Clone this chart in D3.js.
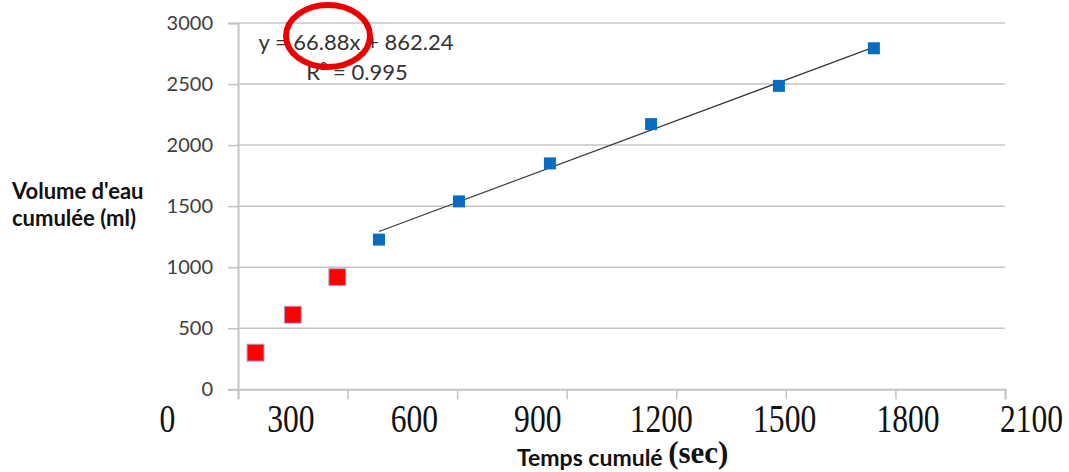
<!DOCTYPE html>
<html>
<head>
<meta charset="utf-8">
<script src="https://cdn.jsdelivr.net/npm/d3@7"></script>
<style>
  body { margin: 0; background: #fff; }
  svg { display: block; }
</style>
</head>
<body>
<svg id="chart" width="1069" height="472"></svg>
<script>
// tick labels
const xTicks = [0, 300, 600, 900, 1200, 1500, 1800, 2100];
const yTicks = [0, 500, 1000, 1500, 2000, 2500, 3000];

// first points (red, left out of the fit)
const redTimes = [48, 150, 272];
const redVolumes = [300, 611, 918];

// fitted points (blue)
const blueTimes = [386, 605, 854, 1131, 1481, 1741];
const blueVolumes = [1226, 1539, 1850, 2172, 2485, 2793];

// Excel trendline, x in minutes
const slope = 66.88;
const intercept = 862.24;
const r2 = 0.995;

const svg = d3.select("#chart");
const plain = d3.format("d");

const xScale = d3.scaleLinear().domain([0, 2100]).range([238, 1005]);
const yScale = d3.scaleLinear().domain([0, 3000]).range([389.3, 23]);
// the pasted-on seconds labels sit on their own, slightly wider, axis
const labelScale = d3.scaleLinear().domain([0, 2100]).range([167, 1031]);

// horizontal gridlines
svg.append("g")
  .selectAll("line")
  .data(yTicks.filter((d) => d > 0))
  .join("line")
  .attr("x1", xScale(0))
  .attr("x2", xScale(2100))
  .attr("y1", (d) => yScale(d))
  .attr("y2", (d) => yScale(d))
  .attr("stroke", "#c4c4c4")
  .attr("stroke-width", 1.5);

// y axis
const yAxis = d3.axisLeft(yScale).tickValues(yTicks).tickFormat(plain).tickSize(10).tickPadding(15);
const gy = svg.append("g")
  .attr("transform", `translate(${xScale(0)},0)`)
  .call(yAxis);
gy.select(".domain").attr("stroke", "#c4c4c4").attr("stroke-width", 2);
gy.selectAll(".tick line").attr("stroke", "#c4c4c4").attr("stroke-width", 1.5);
gy.selectAll(".tick text")
  .attr("font-family", "Lato, 'Open Sans', sans-serif")
  .attr("font-size", 20)
  .attr("fill", "#404040");

// x axis (Excel ticks, no labels)
const xAxis = d3.axisBottom(xScale).tickValues(xTicks).tickSize(10).tickFormat("");
const gx = svg.append("g")
  .attr("transform", `translate(0,${yScale(0)})`)
  .call(xAxis);
gx.select(".domain").attr("stroke", "#c4c4c4").attr("stroke-width", 2);
gx.selectAll(".tick line").attr("stroke", "#c4c4c4").attr("stroke-width", 1.5);

// serif seconds labels
const labelAxis = d3.axisBottom(labelScale).tickValues(xTicks).tickFormat(plain).tickSize(0).tickPadding(0);
const gl = svg.append("g")
  .attr("transform", `translate(0,${yScale(0)})`)
  .call(labelAxis);
gl.select(".domain").remove();
gl.selectAll(".tick text")
  .attr("y", 43)
  .attr("dy", 0)
  .attr("font-family", "'Liberation Serif', 'Times New Roman', serif")
  .attr("font-size", 40)
  .attr("fill", "#111")
  .attr("transform", "scale(0.79,1)");

// axis titles
const yTitle = svg.append("text")
  .attr("font-family", "Lato, 'Open Sans', sans-serif")
  .attr("font-weight", "bold")
  .attr("font-size", 22)
  .attr("fill", "#111");
yTitle.append("tspan").attr("x", 12).attr("y", 199).text("Volume d'eau");
yTitle.append("tspan").attr("x", 12).attr("y", 226).text("cumulée (ml)");

const xTitle = svg.append("text")
  .attr("x", 517)
  .attr("y", 466)
  .attr("fill", "#111");
xTitle.append("tspan")
  .attr("font-family", "Lato, 'Open Sans', sans-serif")
  .attr("font-weight", "bold")
  .attr("font-size", 23)
  .text("Temps cumulé ");
xTitle.append("tspan")
  .attr("y", 463)
  .attr("font-family", "'Liberation Serif', 'Times New Roman', serif")
  .attr("font-weight", "bold")
  .attr("font-size", 31)
  .text("(sec)");

// trendline over the blue points
const tRange = d3.extent(blueTimes);
const trendLine = d3.line()
  .x((t) => xScale(t))
  .y((t) => yScale(slope * (t / 60) + intercept));
svg.append("path")
  .datum(tRange)
  .attr("d", trendLine)
  .attr("fill", "none")
  .attr("stroke", "#3a3a3a")
  .attr("stroke-width", 1.3);

// markers
const blueSize = 12;
svg.append("g")
  .selectAll("rect")
  .data(blueTimes.map((t, i) => [t, blueVolumes[i]]))
  .join("rect")
  .attr("x", (d) => xScale(d[0]) - blueSize / 2)
  .attr("y", (d) => yScale(d[1]) - blueSize / 2)
  .attr("width", blueSize)
  .attr("height", blueSize)
  .attr("fill", "#0a6cc0");

const redSize = 17;
svg.append("g")
  .selectAll("rect")
  .data(redTimes.map((t, i) => [t, redVolumes[i]]))
  .join("rect")
  .attr("x", (d) => xScale(d[0]) - redSize / 2)
  .attr("y", (d) => yScale(d[1]) - redSize / 2)
  .attr("width", redSize)
  .attr("height", redSize)
  .attr("fill", "#ff0000")
  .attr("stroke", "#9db3dc")
  .attr("stroke-width", 1);

// equation label
const eq = svg.append("text")
  .attr("font-family", "Lato, 'Open Sans', sans-serif")
  .attr("font-size", 22)
  .attr("fill", "#333")
  .attr("text-anchor", "middle");
eq.append("tspan").attr("x", 356).attr("y", 50).text(`y = ${slope}x + ${intercept}`);
eq.append("tspan").attr("x", 357).attr("y", 80).text(`R² = ${r2}`);

// red ring drawn over the slope
svg.append("ellipse")
  .attr("cx", 328)
  .attr("cy", 36)
  .attr("rx", 42)
  .attr("ry", 31)
  .attr("fill", "none")
  .attr("stroke", "#ee0000")
  .attr("stroke-width", 6);
</script>
</body>
</html>
